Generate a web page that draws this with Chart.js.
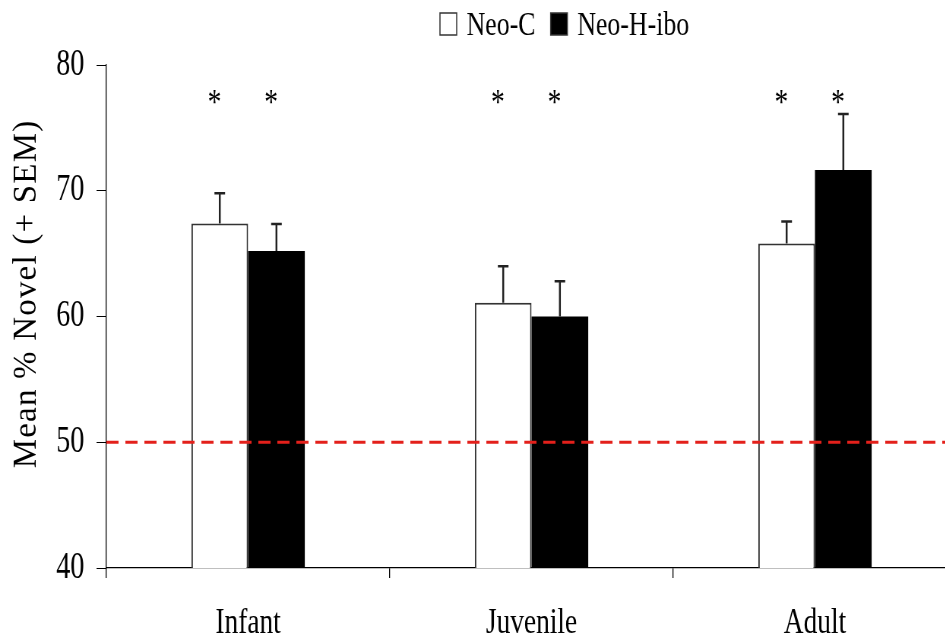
<!DOCTYPE html>
<html>
<head>
<meta charset="utf-8">
<script src="https://cdn.jsdelivr.net/npm/chart.js@4.4.0/dist/chart.umd.min.js"></script>
<style>
  html, body { margin: 0; padding: 0; background: #fff; overflow: hidden; }
  #chart { display: block; }
</style>
</head>
<body>
<canvas id="chart" width="1266" height="641" style="width: 962px; height: 641px;"></canvas>
<script>
// data
const ageGroups = ['Infant', 'Juvenile', 'Adult'];
const seriesNames = ['Neo-C', 'Neo-H-ibo'];
const neoC = [67.4, 61.1, 65.8];
const neoCSem = [2.4, 2.9, 1.75];
const neoH = [65.2, 60.0, 71.65];
const neoHSem = [2.15, 2.8, 4.45];
const neoCSig = [true, true, true];
const neoHSig = [true, true, true];
const yTicks = [40, 50, 60, 70, 80];
const chanceLevel = 50;
const starLevel = 77.5;

// the canvas is drawn wider and squeezed by css so the type looks condensed
const SQUEEZE = 962 / 1266;
const serif = "'Liberation Serif', 'Times New Roman', serif";

const chanceLine = {
    id: 'chanceLine',
    afterDatasetsDraw(chart) {
        const { ctx, chartArea, scales: { y } } = chart;
        const yy = y.getPixelForValue(chanceLevel);
        ctx.save();
        ctx.strokeStyle = '#e3201b';
        ctx.lineWidth = 3;
        ctx.setLineDash([16, 9]);
        ctx.beginPath();
        ctx.moveTo(chartArea.left, yy);
        ctx.lineTo(chartArea.right, yy);
        ctx.stroke();
        ctx.restore();
    }
};

const errorBars = {
    id: 'errorBars',
    afterDatasetsDraw(chart) {
        const { ctx, scales: { y } } = chart;
        const sems = [neoCSem, neoHSem];
        const sig = [neoCSig, neoHSig];
        ctx.save();
        ctx.strokeStyle = '#222';
        ctx.lineWidth = 2.5;
        chart.data.datasets.forEach((ds, i) => {
            chart.getDatasetMeta(i).data.forEach((bar, j) => {
                const top = y.getPixelForValue(ds.data[j] + sems[i][j]);
                ctx.beginPath();
                ctx.moveTo(bar.x, bar.y);
                ctx.lineTo(bar.x, top);
                ctx.moveTo(bar.x - 7, top);
                ctx.lineTo(bar.x + 7, top);
                ctx.stroke();

                if (sig[i][j]) {
                    ctx.fillStyle = '#000';
                    ctx.font = '36px ' + serif;
                    ctx.textAlign = 'center';
                    ctx.textBaseline = 'alphabetic';
                    ctx.fillText('*', bar.x - 7, y.getPixelForValue(starLevel) + 18);
                }
            });
        });
        ctx.restore();
    }
};

const legendAndTitle = {
    id: 'legendAndTitle',
    afterDraw(chart) {
        const { ctx } = chart;
        ctx.save();
        // legend
        ctx.font = '34px ' + serif;
        ctx.textBaseline = 'alphabetic';
        ctx.textAlign = 'left';
        let x = 579;
        chart.data.datasets.forEach((ds) => {
            ctx.fillStyle = ds.backgroundColor;
            ctx.strokeStyle = '#333';
            ctx.lineWidth = 1.5;
            ctx.fillRect(x, 13, 22, 22);
            ctx.strokeRect(x, 13, 22, 22);
            x += 35;
            ctx.fillStyle = '#000';
            ctx.fillText(ds.label, x, 35);
            x += ctx.measureText(ds.label).width + 20;
        });

        // y axis title, undo the squeeze so it keeps its height
        ctx.translate(36, 294);
        ctx.scale(1 / SQUEEZE, 1);
        ctx.rotate(-Math.PI / 2);
        ctx.font = '33px ' + serif;
        ctx.letterSpacing = '1.2px';
        ctx.textAlign = 'center';
        ctx.textBaseline = 'middle';
        ctx.fillStyle = '#000';
        ctx.fillText('Mean % Novel (+ SEM)', 0, 0);
        ctx.restore();
    }
};

new Chart(document.getElementById('chart'), {
    type: 'bar',
    data: {
        labels: ageGroups,
        datasets: [{
            label: seriesNames[0],
            data: neoC,
            backgroundColor: '#ffffff',
            borderColor: '#333333',
            borderWidth: 2,
            categoryPercentage: 0.4,
            barPercentage: 1.0
        }, {
            label: seriesNames[1],
            data: neoH,
            backgroundColor: '#000000',
            borderWidth: 0,
            categoryPercentage: 0.4,
            barPercentage: 1.0
        }]
    },
    options: {
        responsive: false,
        animation: false,
        devicePixelRatio: 1,
        layout: {
            padding: { top: 65, right: 7, bottom: 0, left: 0 }
        },
        plugins: {
            legend: { display: false },
            tooltip: { enabled: false }
        },
        scales: {
            x: {
                grid: {
                    drawOnChartArea: false,
                    tickLength: 10,
                    color: '#000',
                    lineWidth: 1.3,
                    offset: true
                },
                border: { color: '#000', width: 1.3 },
                ticks: {
                    color: '#000',
                    font: { family: serif, size: 36 },
                    padding: 24
                },
                afterFit: s => { s.height = 73; }
            },
            y: {
                min: 40,
                max: 80,
                afterBuildTicks: s => { s.ticks = yTicks.map(v => ({ value: v })); },
                grid: {
                    drawOnChartArea: false,
                    tickLength: 13,
                    color: '#000'
                },
                border: { color: '#000', width: 1.3 },
                ticks: {
                    color: '#000',
                    font: { family: serif, size: 37 },
                    padding: 16
                },
                afterFit: s => { s.width = 140; }
            }
        }
    },
    plugins: [chanceLine, errorBars, legendAndTitle]
});
</script>
</body>
</html>
